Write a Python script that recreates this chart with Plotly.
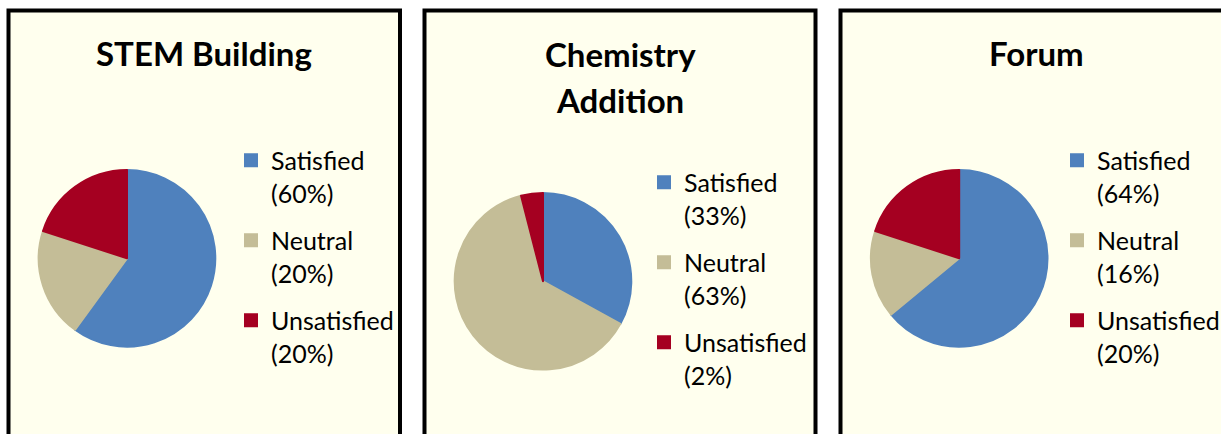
import plotly.graph_objects as go

# ---- data ----
titles = ["STEM Building", "Chemistry<br>Addition", "Forum"]
categories = ["Satisfied", "Neutral", "Unsatisfied"]
stem_values = [60, 20, 20]
chem_values = [33, 63, 4]
forum_values = [64, 16, 20]
stem_pct = ["60%", "20%", "20%"]
chem_pct = ["33%", "63%", "2%"]
forum_pct = ["64%", "16%", "20%"]
colors = ["#4F81BD", "#C4BD97", "#A50021"]

W, H = 1221, 434
FONT = "Lato"
BG = "#FFFFEE"


def fx(x):
    return x / W


def fy(y):
    return 1 - y / H


fig = go.Figure()

panels = [
    dict(vals=stem_values, pct=stem_pct, cx=127, cy=258.3, lx=231, ly=137.5,
         box=(8.5, 400), tx=204, ty=53, title=titles[0]),
    dict(vals=chem_values, pct=chem_pct, cx=543, cy=281.3, lx=644, ly=159.5,
         box=(424.5, 815.5), tx=620, ty=54, title=titles[1]),
    dict(vals=forum_values, pct=forum_pct, cx=959.2, cy=258.3, lx=1057, ly=137.5,
         box=(840.5, 1260), tx=1036, ty=53, title=titles[2]),
]

R = 88.3
shapes = []
annotations = []
for i, p in enumerate(panels):
    lid = "legend" if i == 0 else f"legend{i + 1}"
    # zero-width suffix keeps labels unique across the three pies
    labels = [f"{c}<br>({v})" + "\u200b" * i for c, v in zip(categories, p["pct"])]
    fig.add_trace(go.Pie(
        labels=labels, values=p["vals"], sort=False, direction="clockwise",
        rotation=0, marker=dict(colors=colors, line=dict(color=colors, width=2)),
        textinfo="none", hoverinfo="label", legend=lid,
        domain=dict(x=[fx(p["cx"] - R), fx(p["cx"] + R)],
                    y=[fy(p["cy"] + R), fy(p["cy"] - R)]),
    ))
    # transparent padding entry so that each slice forms its own legend group
    fig.add_trace(go.Pie(
        labels=[" "], values=[1], legendgroup=f"pad{i}", legend=lid,
        marker=dict(colors=["rgba(0,0,0,0)"], line=dict(width=0)),
        textinfo="none", hoverinfo="skip",
        domain=dict(x=[0, 0.0005], y=[0, 0.0005]),
    ))
    x0, x1 = p["box"]
    shapes.append(dict(type="rect", xref="paper", yref="paper",
                       x0=fx(x0), x1=fx(x1), y0=fy(460), y1=fy(10.5),
                       fillcolor=BG, line=dict(color="black", width=4),
                       layer="below"))
    for k, line in enumerate(p["title"].split("<br>")):
        annotations.append(dict(text=f"<b>{line}</b>", xref="paper", yref="paper",
                                x=fx(p["tx"]), y=fy(p["ty"] + 46 * k), xanchor="center",
                                yanchor="middle", showarrow=False,
                                font=dict(family=FONT, size=33, color="black")))
    fig.update_layout({lid: dict(
        x=fx(p["lx"]), y=fy(p["ly"]), xanchor="left", yanchor="top",
        bgcolor="rgba(0,0,0,0)", borderwidth=0, valign="top",
        traceorder="grouped", tracegroupgap=12,
        font=dict(family=FONT, size=25, color="black"),
    )})

fig.update_layout(
    width=W, height=H,
    margin=dict(l=0, r=0, t=0, b=0, pad=0, autoexpand=False),
    paper_bgcolor="white", plot_bgcolor="white",
    showlegend=True,
    shapes=shapes, annotations=annotations,
    font=dict(family=FONT),
)

fig.write_html("out.html", config={"displayModeBar": False},
               post_script="document.body.style.margin='0px';")
